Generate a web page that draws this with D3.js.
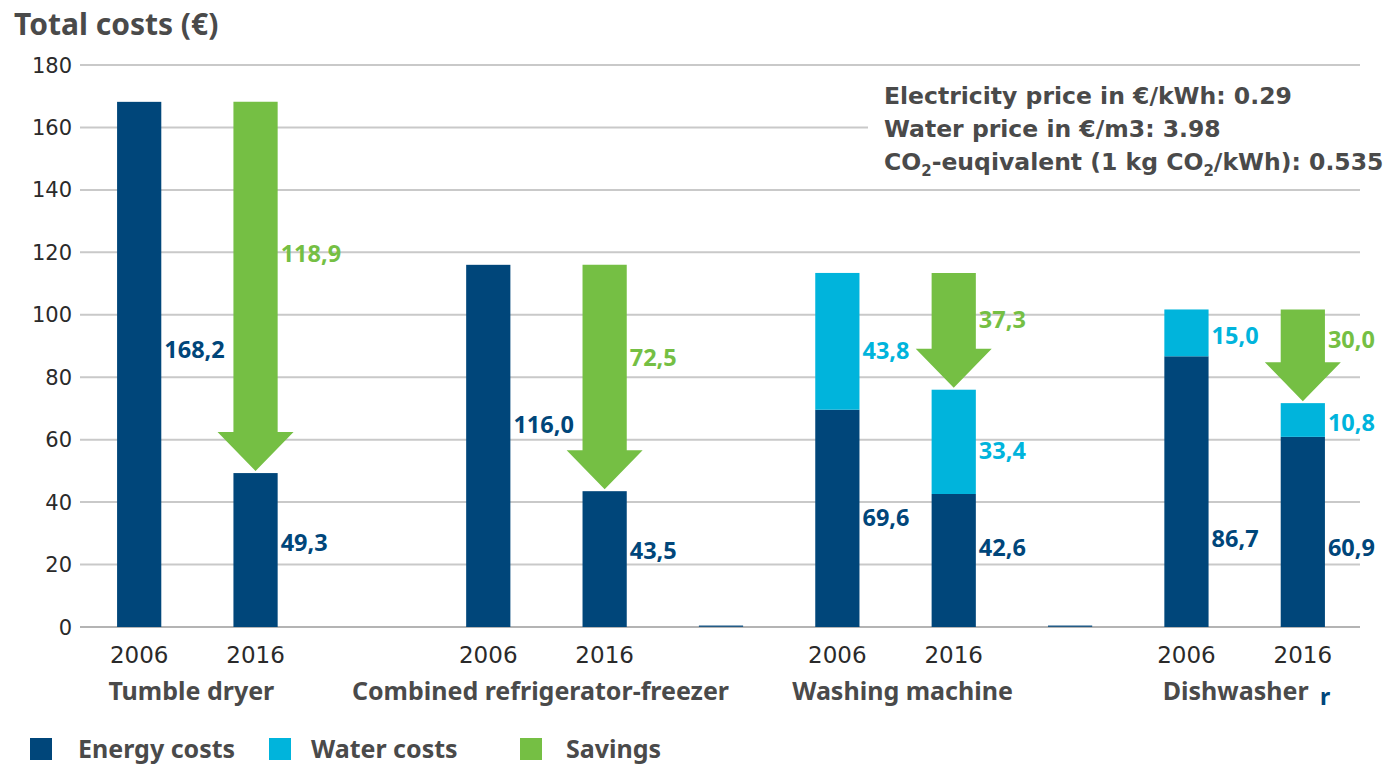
<!DOCTYPE html>
<html>
<head>
<meta charset="utf-8">
<script src="https://cdn.jsdelivr.net/npm/d3@7"></script>
<style>
  body { margin: 0; background: #fff; }
  svg { display: block; font-family: "Noto Sans", "Open Sans", sans-serif; }
</style>
</head>
<body>
<svg width="1386" height="765"></svg>
<script>
// data
var appliances = ["Tumble dryer", "Combined refrigerator-freezer", "Washing machine", "Dishwasher"];
var years = ["2006", "2016"];
var energy2006 = [168.2, 116.0, 69.6, 86.7];
var water2006 = [0, 0, 43.8, 15.0];
var energy2016 = [49.3, 43.5, 42.6, 60.9];
var water2016 = [0, 0, 33.4, 10.8];
var savings = [118.9, 72.5, 37.3, 30.0];
var gapValues = [0, 0.5, 0.5];   // the tiny marks sitting on the baseline between groups
var yTicks = [0, 20, 40, 60, 80, 100, 120, 140, 160, 180];

// where the value labels sit (in €)
var energyLabelAt2006 = [88.8, 65, 35.2, 28.2];
var energyLabelAt2016 = [26.9, 24.4, 25.6, 25.6];
var waterLabelAt2006 = [0, 0, 88.5, 93.3];
var waterLabelAt2016 = [0, 0, 56.4, 65.4];
var savingsLabelAt = [119.6, 86.2, 98.4, 92];

var legendItems = ["Energy costs", "Water costs", "Savings"];
var notes = ["Electricity price in €/kWh: 0.29", "Water price in €/m3: 3.98"];

var navy = "#00467a", cyan = "#00b4dc", green = "#75bf44", grey = "#4a4a4a";

var svg = d3.select("svg");
var fmt = function (v) { return d3.format(".1f")(v).replace(".", ","); };

// slots: two years per appliance, with an empty slot between groups
var slots = [];
appliances.forEach(function (a, i) {
  years.forEach(function (y) { slots.push(i + "-" + y); });
  if (i < appliances.length - 1) slots.push("gap" + i);
});

var x = d3.scaleBand().domain(slots).range([81, 1361]).paddingInner(0.62).paddingOuter(0.31);
var y = d3.scaleLinear().domain([0, 180]).range([627, 65]);

// gridlines
svg.append("g")
  .selectAll("line")
  .data(yTicks)
  .enter().append("line")
  .attr("x1", 80).attr("x2", 1360)
  .attr("y1", function (d) { return y(d); })
  .attr("y2", function (d) { return y(d); })
  .attr("stroke", function (d) { return d === 0 ? "#b4b4b4" : "#c9c9c9"; })
  .attr("stroke-width", 2);

// y tick labels
svg.append("g")
  .selectAll("text")
  .data(yTicks)
  .enter().append("text")
  .attr("x", 72)
  .attr("y", function (d) { return y(d); })
  .attr("dy", "0.36em")
  .attr("text-anchor", "end")
  .attr("font-family", "DejaVu Sans, sans-serif")
  .attr("font-size", 21)
  .attr("fill", "#2a2a2a")
  .text(function (d) { return d; });

// title
svg.append("text")
  .attr("x", 14).attr("y", 35)
  .attr("font-size", 30).attr("font-weight", "bold")
  .attr("fill", grey)
  .text("Total costs (€)");

// annotation box (hides the gridlines behind it)
svg.append("rect")
  .attr("x", 868).attr("y", 76).attr("width", 518).attr("height", 106)
  .attr("fill", "#fff");

var note = svg.append("g")
  .attr("font-family", "DejaVu Sans, sans-serif")
  .attr("font-weight", "bold")
  .attr("font-size", 23.5)
  .attr("fill", grey);
notes.forEach(function (t, i) {
  note.append("text").attr("x", 884).attr("y", 104 + i * 33).text(t);
});
var co2 = note.append("text").attr("x", 884).attr("y", 170);
co2.append("tspan").text("CO");
co2.append("tspan").attr("font-size", 15).attr("dy", 6).text("2");
co2.append("tspan").attr("dy", -6).text("-euqivalent (1 kg CO");
co2.append("tspan").attr("font-size", 15).attr("dy", 6).text("2");
co2.append("tspan").attr("dy", -6).text("/kWh): 0.535");

// bars
var bw = x.bandwidth();
var bars = svg.append("g");
appliances.forEach(function (a, i) {
  var x06 = x(i + "-2006"), x16 = x(i + "-2016");
  var stacks = [
    { x: x06, lo: 0, hi: energy2006[i], c: navy },
    { x: x06, lo: energy2006[i], hi: energy2006[i] + water2006[i], c: cyan },
    { x: x16, lo: 0, hi: energy2016[i], c: navy },
    { x: x16, lo: energy2016[i], hi: energy2016[i] + water2016[i], c: cyan }
  ];
  stacks.forEach(function (s) {
    if (s.hi - s.lo <= 0) return;
    bars.append("rect")
      .attr("x", s.x).attr("width", bw)
      .attr("y", y(s.hi)).attr("height", y(s.lo) - y(s.hi))
      .attr("fill", s.c);
  });

  // savings arrow: from the 2006 total down to the 2016 total
  var top = y(energy2006[i] + water2006[i]);
  var tip = y(energy2016[i] + water2016[i]) - 2;
  var headH = 39, headW = 38, cx = x16 + bw / 2;
  var pts = [
    [x16, top], [x16 + bw, top], [x16 + bw, tip - headH], [cx + headW, tip - headH],
    [cx, tip], [cx - headW, tip - headH], [x16, tip - headH]
  ];
  bars.append("path")
    .attr("d", d3.line()(pts) + "Z")
    .attr("fill", green);
});

// small marks in the gap slots
gapValues.forEach(function (v, i) {
  if (v <= 0) return;
  bars.append("rect")
    .attr("x", x("gap" + i)).attr("width", bw)
    .attr("y", y(v)).attr("height", y(0) - y(v))
    .attr("fill", navy).attr("opacity", 0.8);
});

// value labels
var labels = svg.append("g")
  .attr("font-size", 23.5).attr("font-weight", "bold");
function addLabel(slot, at, val, color) {
  labels.append("text")
    .attr("x", x(slot) + bw + 3)
    .attr("y", y(at))
    .attr("dy", "0.36em")
    .attr("fill", color)
    .text(fmt(val));
}
appliances.forEach(function (a, i) {
  addLabel(i + "-2006", energyLabelAt2006[i], energy2006[i], navy);
  addLabel(i + "-2016", energyLabelAt2016[i], energy2016[i], navy);
  if (water2006[i] > 0) addLabel(i + "-2006", waterLabelAt2006[i], water2006[i], cyan);
  if (water2016[i] > 0) addLabel(i + "-2016", waterLabelAt2016[i], water2016[i], cyan);
  addLabel(i + "-2016", savingsLabelAt[i], savings[i], green);
});

// x labels: years and appliance names
var xl = svg.append("g");
appliances.forEach(function (a, i) {
  years.forEach(function (yr) {
    xl.append("text")
      .attr("x", x(i + "-" + yr) + bw / 2)
      .attr("y", 663)
      .attr("text-anchor", "middle")
      .attr("font-family", "DejaVu Sans, sans-serif")
      .attr("font-size", 23)
      .attr("fill", "#2a2a2a")
      .text(yr);
  });
  xl.append("text")
    .attr("x", (x(i + "-2006") + x(i + "-2016") + bw) / 2 - (i === 2 ? -7 : i === 3 ? 9 : 6))
    .attr("y", 700)
    .attr("text-anchor", "middle")
    .attr("font-size", 25).attr("font-weight", "bold")
    .attr("fill", grey)
    .text(a);
});
// stray glyph next to "Dishwasher" in the original
xl.append("text")
  .attr("x", 1320).attr("y", 705)
  .attr("font-size", 23).attr("font-weight", "bold")
  .attr("fill", navy)
  .text("r");

// legend
var legendColors = [navy, cyan, green];
var legendX = [30, 269, 520];
var legendTextX = [78, 311, 566];
var lg = svg.append("g");
legendItems.forEach(function (t, i) {
  lg.append("rect")
    .attr("x", legendX[i]).attr("y", 738)
    .attr("width", 22).attr("height", 22)
    .attr("fill", legendColors[i]);
  lg.append("text")
    .attr("x", legendTextX[i]).attr("y", 758)
    .attr("font-size", 25).attr("font-weight", "bold")
    .attr("fill", grey)
    .text(t);
});
</script>
</body>
</html>
